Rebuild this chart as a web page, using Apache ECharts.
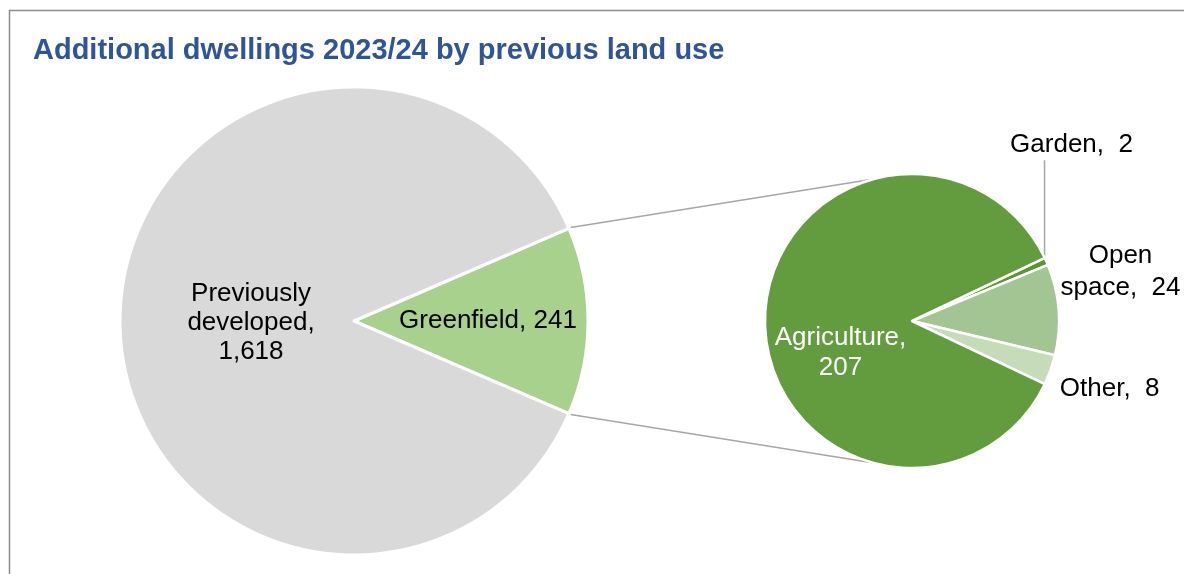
<!DOCTYPE html>
<html><head><meta charset="utf-8">
<script src="https://cdn.jsdelivr.net/npm/echarts@6/dist/echarts.min.js"></script>
<style>html,body{margin:0;padding:0;background:#fff}#c{width:1184px;height:574px}</style>
</head><body><div id="c"></div>
<script>
// Data
var mainCategories = ['Greenfield', 'Previously developed'];
var mainValues = [241, 1618];
var mainLabels = ['Greenfield, 241', 'Previously\ndeveloped,\n1,618'];
var subCategories = ['Garden', 'Open space', 'Other', 'Agriculture'];
var subValues = [2, 24, 8, 207];
var subLabels = ['Garden,  2', '{c|Open}\n{c|space,  24}', 'Other,  8', 'Agriculture,\n207'];

// Layout
var LC = [354, 321], LR = 234;
var RC = [912, 321], RR = 147;
var FONT = 'Liberation Sans, Arial, sans-serif';

var mainTotal = mainValues.reduce(function(a,b){return a+b;},0);
var half = 360 * mainValues[0] / mainTotal / 2;
var subTotal = subValues.reduce(function(a,b){return a+b;},0);
var subSmall = subTotal - subValues[3];
var subHalf = 360 * subSmall / subTotal / 2;
var gardenMid = subHalf - 360 * subValues[0] / subTotal / 2;

var mainColors = ['#a9d18e', '#d9d9d9'];
var subColors = ['#5a9634', '#a3c593', '#c6dcb9', '#629c3e'];

function pt(c, r, deg){ var a = deg*Math.PI/180; return [c[0]+r*Math.cos(a), c[1]-r*Math.sin(a)]; }
var p1 = pt(LC, LR+2, half), p2 = pt(LC, LR+2, -half);
var q1 = pt(RC, RR, 105), q2 = pt(RC, RR, -105);
var g0 = pt(RC, RR - 2, gardenMid);

var chart = echarts.init(document.getElementById('c'));
chart.setOption({
  animation: false,
  title: { text: 'Additional dwellings 2023/24 by previous land use', left: 28, top: 31,
    textStyle: { color: '#2f5597', fontSize: 29, fontWeight: 'bold', fontFamily: FONT } },
  graphic: [
    { type: 'rect', shape: { x: 9.5, y: 10.5, width: 1300, height: 700 }, style: { fill: 'none', stroke: '#8c8c8c', lineWidth: 1.5 }, silent: true },
    { type: 'line', shape: { x1: p1[0], y1: p1[1], x2: q1[0], y2: q1[1] }, style: { stroke: '#a6a6a6', lineWidth: 1.5 }, silent: true },
    { type: 'line', shape: { x1: p2[0], y1: p2[1], x2: q2[0], y2: q2[1] }, style: { stroke: '#a6a6a6', lineWidth: 1.5 }, silent: true },
    { type: 'line', shape: { x1: g0[0], y1: g0[1], x2: g0[0], y2: g0[1] - 102 }, style: { stroke: '#a6a6a6', lineWidth: 1.5 }, silent: true }
  ],
  series: [
    { type: 'pie', center: LC, radius: [0, LR], startAngle: half, clockwise: true,
      avoidLabelOverlap: false,
      itemStyle: { borderColor: '#fff', borderWidth: 3 },
      label: { show: true, position: 'inside', color: '#000', fontSize: 26, lineHeight: 29, fontFamily: FONT,
        formatter: function(p){ return mainLabels[p.dataIndex]; } },
      labelLayout: function(p){ return p.dataIndex === 0 ? { dx: 14 } : { dx: 17, dy: 2 }; },
      emphasis: { disabled: true },
      data: mainCategories.map(function(n,i){ return { name: n, value: mainValues[i], itemStyle: { color: mainColors[i] } }; })
    },
    { type: 'pie', center: RC, radius: [0, RR], startAngle: subHalf, clockwise: true,
      avoidLabelOverlap: false, minShowLabelAngle: 0,
      itemStyle: { borderColor: '#fff', borderWidth: 2.5 },
      label: { show: true, position: 'outside', color: '#000', fontSize: 26, lineHeight: 31, fontFamily: FONT,
        rich: { c: { width: 122, align: 'center', fontSize: 26, lineHeight: 32, fontFamily: FONT, color: '#000' } },
        formatter: function(p){ return subLabels[p.dataIndex]; } },
      labelLine: { show: false },
      emphasis: { disabled: true },
      data: subCategories.map(function(n,i){
        var d = { name: n, value: subValues[i], itemStyle: { color: subColors[i] } };
        if (i === 3) { d.label = { position: 'inside', color: '#fff', lineHeight: 30 }; }
        return d;
      }),
      labelLayout: function(p){
        if (p.dataIndex === 0) return { dx: -85, dy: -111 };
        if (p.dataIndex === 1) return { dx: -49, dy: -37 };
        if (p.dataIndex === 2) return { dx: -40, dy: 14 };
        return { dx: 5, dy: 32 };
      }
    }
  ]
});
</script></body></html>
